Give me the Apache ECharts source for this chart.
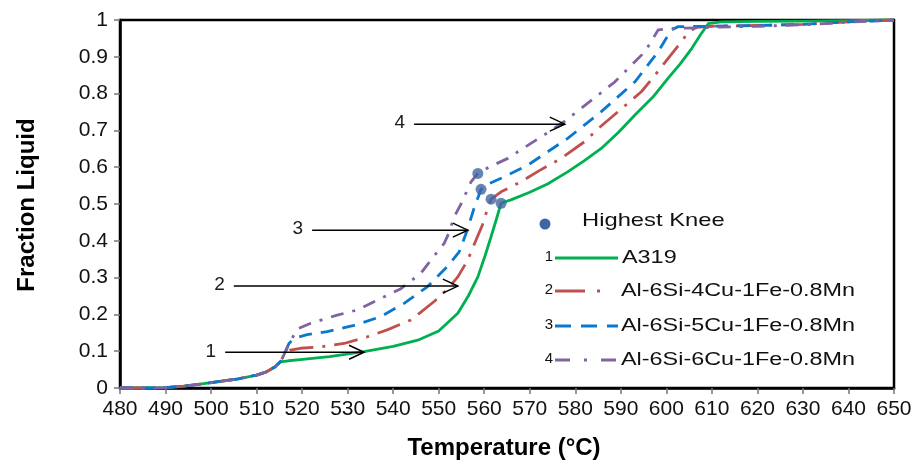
<!DOCTYPE html>
<html>
<head>
<meta charset="utf-8">
<script src="https://cdn.jsdelivr.net/npm/echarts@6/dist/echarts.min.js"></script>
<style>html,body{margin:0;padding:0;background:#fff;}#c{width:920px;height:470px;}</style>
</head>
<body>
<div id="c"></div>
<script>
// ---- data ----
const xTicks = [480,490,500,510,520,530,540,550,560,570,580,590,600,610,620,630,640,650];
const yTicks = [0,0.1,0.2,0.3,0.4,0.5,0.6,0.7,0.8,0.9,1];

// shared early-solidification path (all alloys)
const commonT = [480, 485, 490, 494, 498, 502, 506, 510, 512, 514, 515.2];
const commonF = [0, 0, 0.001, 0.005, 0.011, 0.018, 0.025, 0.035, 0.043, 0.057, 0.071];

const a319T = [517, 519.6, 526, 533.6, 540, 545.4, 550, 554.2, 556.5, 558.6, 560.2, 561.5, 562.7, 563.7, 566, 570, 574, 578.4, 582, 585.7, 589.5, 593.1, 597, 600.4, 603, 605.6, 607.5, 609.2, 612, 620, 630, 640, 650];
const a319F = [0.074, 0.077, 0.085, 0.099, 0.113, 0.130, 0.155, 0.203, 0.25, 0.302, 0.36, 0.411, 0.46, 0.502, 0.512, 0.532, 0.555, 0.588, 0.618, 0.651, 0.695, 0.742, 0.79, 0.842, 0.88, 0.923, 0.96, 0.99, 0.995, 0.996, 0.997, 0.998, 1.0];

const cu4T = [516, 517.4, 519.6, 524.1, 529.2, 534.3, 538.7, 543.9, 549, 552, 554.2, 556.4, 558.2, 559.6, 560.8, 561.5, 563.7, 568, 572, 576.9, 582, 585.5, 589.4, 594.5, 597.5, 600.4, 602.6, 604.8, 606.5, 610, 620, 630, 640, 650];
const cu4F = [0.088, 0.103, 0.108, 0.112, 0.121, 0.139, 0.158, 0.185, 0.235, 0.27, 0.302, 0.348, 0.402, 0.443, 0.49, 0.513, 0.533, 0.56, 0.59, 0.624, 0.669, 0.71, 0.751, 0.805, 0.85, 0.896, 0.93, 0.966, 0.98, 0.983, 0.985, 0.988, 0.995, 1.0];

const cu5T = [516, 517.1, 518.3, 521.1, 525.5, 531.4, 537.3, 542.4, 547.5, 551.9, 554.5, 556.3, 557.8, 558.7, 559.3, 561, 563.7, 569.6, 578.4, 585.7, 593.1, 598.2, 601.1, 602.6, 610, 620, 630, 640, 650];
const cu5F = [0.088, 0.121, 0.135, 0.145, 0.153, 0.17, 0.194, 0.23, 0.275, 0.33, 0.37, 0.43, 0.49, 0.52, 0.54, 0.555, 0.57, 0.606, 0.679, 0.751, 0.832, 0.914, 0.973, 0.982, 0.983, 0.985, 0.988, 0.995, 1.0];

const cu6T = [516, 517.1, 517.8, 518.9, 521.9, 527.7, 532.1, 536.5, 541.7, 546.1, 548.3, 551.2, 552.2, 553.4, 554.9, 557.1, 558.6, 561, 565.2, 569, 573.2, 577.7, 581.3, 588.7, 595.3, 598.2, 601.5, 610, 620, 630, 640, 650];
const cu6F = [0.09, 0.121, 0.135, 0.16, 0.176, 0.198, 0.212, 0.239, 0.27, 0.312, 0.348, 0.393, 0.42, 0.465, 0.50, 0.56, 0.583, 0.60, 0.624, 0.655, 0.688, 0.725, 0.76, 0.832, 0.914, 0.973, 0.977, 0.98, 0.983, 0.987, 0.994, 1.0];

const kneeT = [558.6, 559.3, 561.5, 563.7];
const kneeF = [0.583, 0.54, 0.513, 0.502];

// annotation arrows: start T, end T, fraction, label
const arrowStart = [503.1, 505, 522.2, 544.6];
const arrowEnd   = [533.6, 554.2, 556.4, 577.7];
const arrowF     = [0.097, 0.277, 0.429, 0.717];
const arrowLabel = ['1', '2', '3', '4'];

const seriesNames = ['A319', 'Al-6Si-4Cu-1Fe-0.8Mn', 'Al-6Si-5Cu-1Fe-0.8Mn', 'Al-6Si-6Cu-1Fe-0.8Mn'];

// ---- styles ----
const GREEN = '#00B050', RED = '#C0504D', BLUE = '#0A78CF', PURPLE = '#8064A2', KNEE = '#3E66A3';
const DASH_RED = [24, 9, 3, 9], DASH_BLUE = [13, 9], DASH_PURPLE = [13, 9, 3, 9];

function zip(t, f) { return t.map((v, i) => [v, f[i]]); }
function withCommon(t, f) { return zip(commonT, commonF).concat(zip(t, f)); }

const arrowData = arrowStart.map((s, i) => [s, arrowEnd[i], arrowF[i], arrowLabel[i]]);

const chart = echarts.init(document.getElementById('c'), null, {renderer: 'canvas'});

function lineSeries(name, data, color, dash, w) {
  return {
    name, type: 'line', data, showSymbol: false, symbol: 'none', smooth: false,
    lineStyle: {color, width: w, type: dash || 'solid', cap: 'butt', join: 'round'},
    z: 3, silent: true, clip: false
  };
}

const FONT = 'Arial, "Liberation Sans", sans-serif';

const option = {
  animation: false,
  backgroundColor: '#fff',
  grid: {left: 120, right: 26, top: 20, bottom: 82, show: true, borderColor: '#000', borderWidth: 2.5, backgroundColor: 'transparent'},
  xAxis: {
    type: 'value', min: 480, max: 650, interval: 10,
    axisLine: {show: true, lineStyle: {color: '#000', width: 2.5}},
    axisTick: {show: true, length: 6, inside: false, lineStyle: {color: '#777', width: 1.5}},
    axisLabel: {color: '#111', fontFamily: FONT, fontSize: 21, margin: 11,
      formatter: v => (xTicks.indexOf(v) >= 0 ? String(v) : '')},
    splitLine: {show: false}
  },
  yAxis: {
    type: 'value', min: 0, max: 1, interval: 0.1,
    axisLine: {show: true, lineStyle: {color: '#000', width: 2.5}},
    axisTick: {show: true, length: 6, inside: false, lineStyle: {color: '#777', width: 1.5}},
    axisLabel: {color: '#111', fontFamily: FONT, fontSize: 21, margin: 12,
      formatter: v => { const m = yTicks.find(t => Math.abs(t - v) < 1e-6); return m === undefined ? '' : String(m); }},
    splitLine: {show: false}
  },
  series: [
    lineSeries(seriesNames[0], withCommon(a319T, a319F), GREEN, 'solid', 2.8),
    lineSeries(seriesNames[1], withCommon(cu4T, cu4F), RED, DASH_RED, 2.8),
    lineSeries(seriesNames[2], withCommon(cu5T, cu5F), BLUE, DASH_BLUE, 2.8),
    lineSeries(seriesNames[3], withCommon(cu6T, cu6F), PURPLE, DASH_PURPLE, 2.8),
    {
      name: 'Highest Knee', type: 'scatter', data: zip(kneeT, kneeF), symbol: 'circle', symbolSize: 11,
      itemStyle: {color: KNEE}, z: 5, silent: true
    },
    {
      type: 'custom', data: arrowData, z: 6, silent: true, clip: false,
      encode: {x: [0, 1], y: 2},
      renderItem: function (params, api) {
        const y = api.value(2);
        const p1 = api.coord([api.value(0), y]);
        const p2 = api.coord([api.value(1), y]);
        const lab = arrowLabel[params.dataIndex];
        return {
          type: 'group',
          children: [
            {type: 'line', shape: {x1: p1[0], y1: p1[1], x2: p2[0], y2: p2[1]}, style: {stroke: '#000', lineWidth: 1.5}},
            {type: 'polyline', shape: {points: [[p2[0] - 15, p2[1] - 7], [p2[0], p2[1]], [p2[0] - 15, p2[1] + 7]]}, style: {stroke: '#000', lineWidth: 1.5, fill: null}},
            {type: 'text', x: p1[0] - 9, y: p1[1] - 1, style: {text: lab, fill: '#1a1a1a', font: '19px ' + FONT, align: 'right', verticalAlign: 'middle'}}
          ]
        };
      }
    }
  ],
  graphic: [
    // axis titles
    {type: 'text', x: 27, y: 205, rotation: Math.PI / 2, style: {text: 'Fraction Liquid', font: 'bold 24px ' + FONT, fill: '#000', align: 'center', verticalAlign: 'middle'}},
    {type: 'text', x: 504, y: 448, style: {text: 'Temperature (°C)', font: 'bold 24px ' + FONT, fill: '#000', align: 'center', verticalAlign: 'middle'}},
    // legend
    {type: 'circle', shape: {cx: 545, cy: 224, r: 5.5}, style: {fill: KNEE}},
    {type: 'text', x: 582, y: 221, scaleX: 1.25, style: {text: 'Highest Knee', font: '19px ' + FONT, fill: '#111', verticalAlign: 'middle'}},

    {type: 'text', x: 553, y: 257, style: {text: '1', font: '15px ' + FONT, fill: '#111', align: 'right', verticalAlign: 'middle'}},
    {type: 'line', shape: {x1: 555, y1: 258, x2: 618, y2: 258}, style: {stroke: GREEN, lineWidth: 2.8}},
    {type: 'text', x: 622, y: 258, scaleX: 1.3, style: {text: seriesNames[0], font: '18px ' + FONT, fill: '#111', verticalAlign: 'middle'}},

    {type: 'text', x: 553, y: 290, style: {text: '2', font: '15px ' + FONT, fill: '#111', align: 'right', verticalAlign: 'middle'}},
    {type: 'line', shape: {x1: 555, y1: 291, x2: 612, y2: 291}, style: {stroke: RED, lineWidth: 2.8, lineDash: [30, 12, 3, 12]}},
    {type: 'text', x: 621, y: 291, scaleX: 1.3, style: {text: seriesNames[1], font: '18px ' + FONT, fill: '#111', verticalAlign: 'middle'}},

    {type: 'text', x: 553, y: 325, style: {text: '3', font: '15px ' + FONT, fill: '#111', align: 'right', verticalAlign: 'middle'}},
    {type: 'line', shape: {x1: 555, y1: 326, x2: 618, y2: 326}, style: {stroke: BLUE, lineWidth: 2.8, lineDash: [16, 10]}},
    {type: 'text', x: 621, y: 326, scaleX: 1.3, style: {text: seriesNames[2], font: '18px ' + FONT, fill: '#111', verticalAlign: 'middle'}},

    {type: 'text', x: 553, y: 359, style: {text: '4', font: '15px ' + FONT, fill: '#111', align: 'right', verticalAlign: 'middle'}},
    {type: 'line', shape: {x1: 555, y1: 360, x2: 618, y2: 360}, style: {stroke: PURPLE, lineWidth: 2.8, lineDash: [15, 14, 3, 14]}},
    {type: 'text', x: 621, y: 360, scaleX: 1.3, style: {text: seriesNames[3], font: '18px ' + FONT, fill: '#111', verticalAlign: 'middle'}}
  ]
};
chart.setOption(option);
</script>
</body>
</html>
